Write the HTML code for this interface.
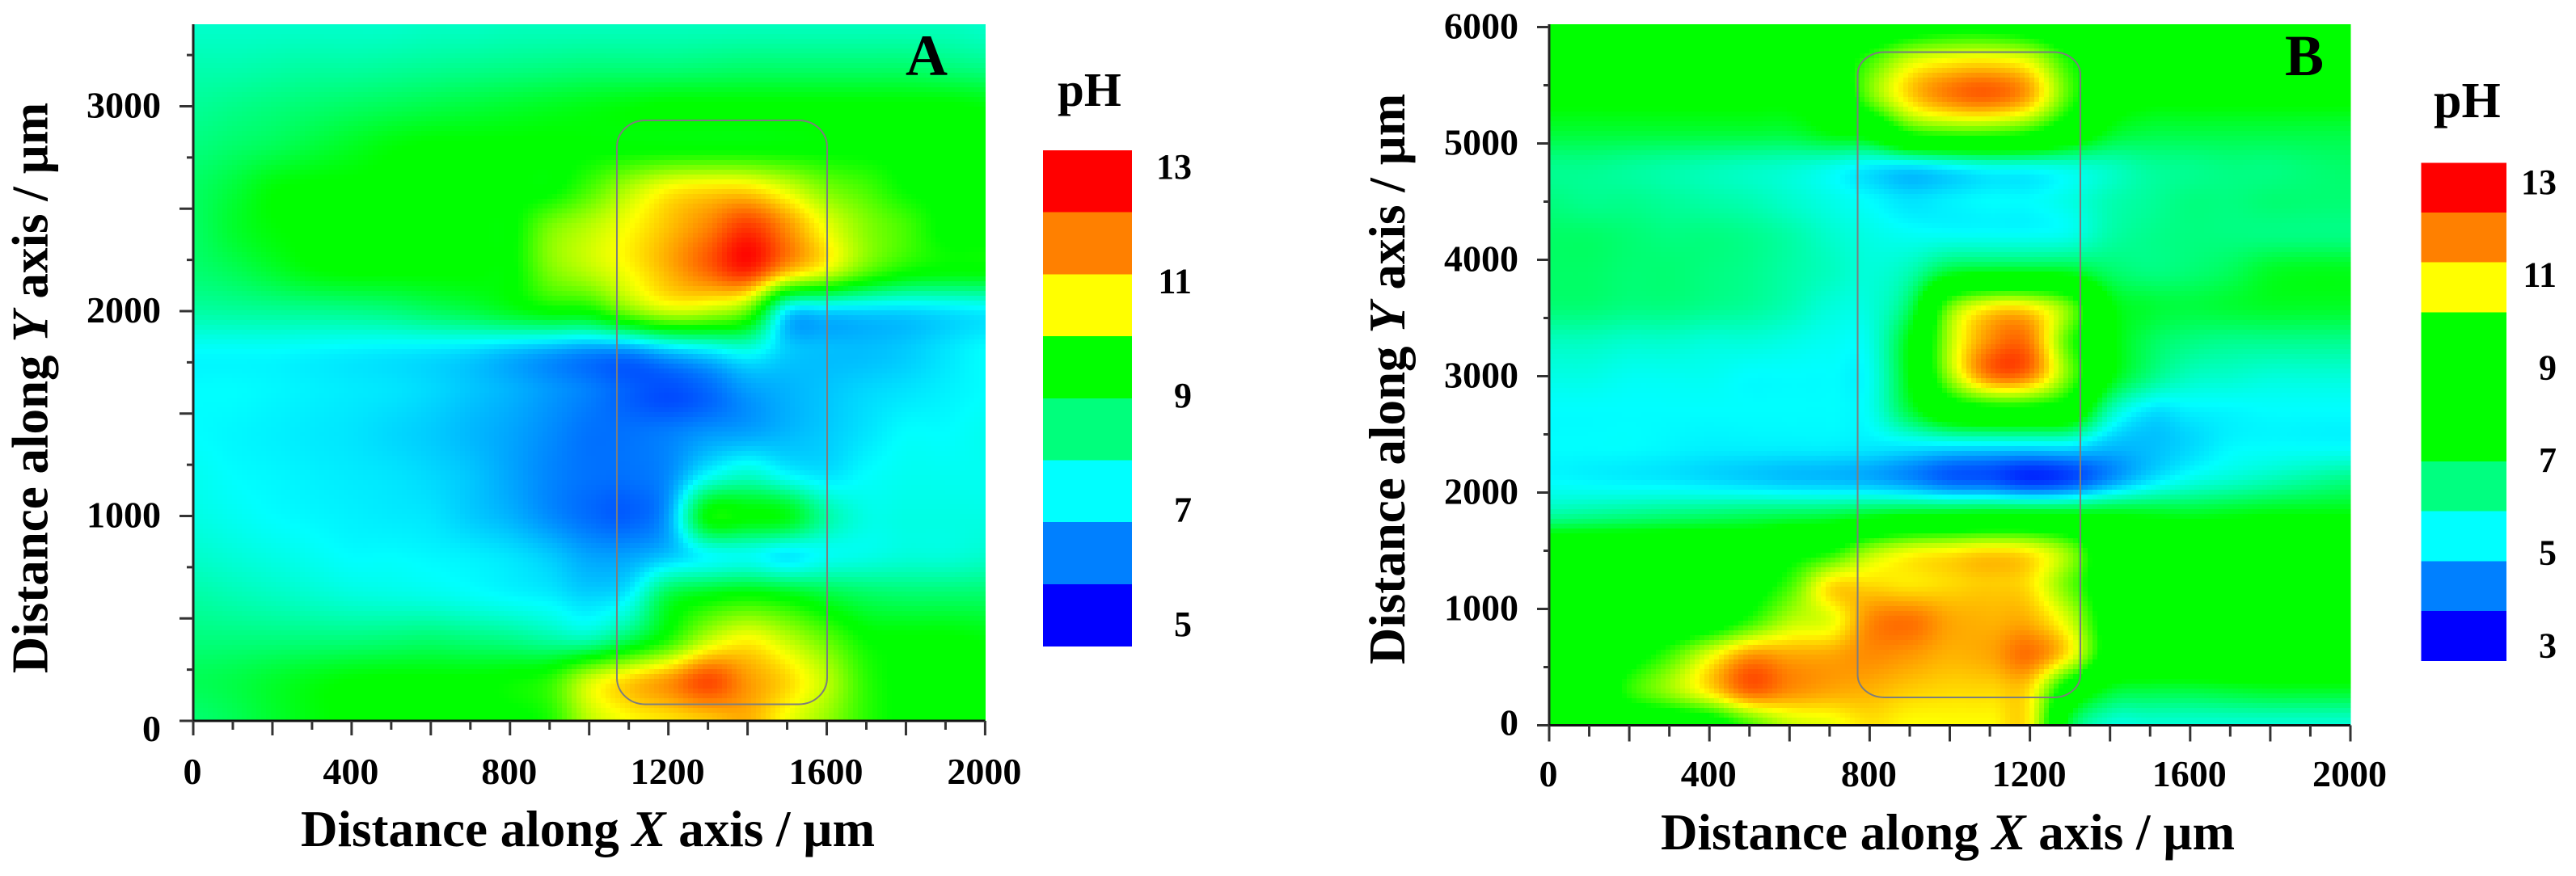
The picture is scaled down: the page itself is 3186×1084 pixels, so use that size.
<!DOCTYPE html>
<html lang="en">
<head>
<meta charset="utf-8">
<title>pH distribution maps A and B</title>
<style>
html,body{margin:0;padding:0;background:#fff;}
svg{display:block;}
text{font-family:"Liberation Serif",serif;font-weight:bold;fill:#000;}
</style>
</head>
<body>
<svg id="figure" xmlns="http://www.w3.org/2000/svg" width="3186" height="1084" viewBox="0 0 3186 1084">
  <rect x="0" y="0" width="3186" height="1084" fill="#fff"/>
  <g id="panel-a">
    <g id="cells-a" shape-rendering="crispEdges"></g>
    <g id="overlay-a"></g>
    <text x="1120" y="93" font-size="72">A</text>
    <text x="372" y="1047" font-size="63">Distance along <tspan font-style="italic">X</tspan> axis / µm</text>
    <text transform="translate(58.7 480) rotate(-90)" text-anchor="middle" font-size="63">Distance along <tspan font-style="italic">Y</tspan> axis / µm</text>
    <text x="1308" y="131" font-size="59">pH</text>
    <g id="legend-a"></g>
  </g>
  <g id="panel-b">
    <g id="cells-b" shape-rendering="crispEdges"></g>
    <g id="overlay-b"></g>
    <text x="2826" y="93" font-size="72">B</text>
    <text x="2054" y="1051" font-size="63">Distance along <tspan font-style="italic">X</tspan> axis / µm</text>
    <text transform="translate(1737 469) rotate(-90)" text-anchor="middle" font-size="63">Distance along <tspan font-style="italic">Y</tspan> axis / µm</text>
    <text x="3010" y="145" font-size="62">pH</text>
    <g id="legend-b"></g>
  </g>
</svg>
<script>
// ---- shared x axis values (µm) ----
const gridX = [0,100,200,300,400,500,600,700,800,900,1000,1100,1200,1300,1400,1500,1600,1700,1800,1900,2000];
const xMajorTicks = [0,200,400,600,800,1000,1200,1400,1600,1800,2000];
const xMinorTicks = [100,300,500,700,900,1100,1300,1500,1700,1900];
const xTickLabels = [0,400,800,1200,1600,2000];

// ---- panel A values ----
const gridYA = [3400,3200,3000,2800,2600,2400,2200,2000,1800,1600,1400,1200,1000,800,600,400,200,0];
const yMajorTicksA = [0,500,1000,1500,2000,2500,3000];
const yMinorTicksA = [250,750,1250,1750,2250,2750,3250];
const yTickLabelsA = [0,1000,2000,3000];
const legendBandsA = [13,12,11,9,8,7,6,5];
const legendLabelsA = [13,11,9,7,5];
const colorStopsValuesA = [5,7,8.95,9.1,11,13];
const phA = [
[7.4,7.4,7.4,7.4,7.4,7.4,7.45,7.45,7.5,7.5,7.5,7.5,7.5,7.5,7.5,7.5,7.5,7.5,7.5,7.5,7.4],
[7.6,7.6,7.65,7.7,7.7,7.75,7.8,7.85,7.9,7.95,8,8,8,8.05,8.1,8.1,8.1,8.1,8.1,8,7.9],
[7.8,7.9,8,8.1,8.2,8.3,8.4,8.5,8.6,8.7,8.8,8.9,9,9,9,9,9,9,9,9,8.9],
[8,8.15,8.3,8.5,8.7,8.9,9,9,9,9,9,9,9,9,9,9,9,9,9,9,9],
[8.2,8.5,8.9,9,9,9,9,9,9,9,9.6,10.4,11,11.2,11.2,10.7,10,9.6,9.1,9,9],
[8.2,8.6,8.9,9,9,9,9,9,9,10,10.5,11,11.5,12,12.6,11.9,10.9,10.1,9.6,9,9],
[8.1,8.3,8.6,8.9,9,9,9,9,9,10,10.5,11,11.6,12.2,12.7,11.6,10.8,9.8,9.2,9,9],
[7.7,7.75,7.8,7.85,7.9,8,8.2,8.4,8.7,9,9.1,10,10.6,10.5,9.8,6.9,6.7,6.7,6.7,6.8,6.9],
[7,7,7,6.95,6.9,6.85,6.8,6.7,6.5,6.3,6.1,6.1,6.5,6.8,7.1,6.6,6.5,6.5,6.6,6.8,7],
[7,7,6.95,6.9,6.85,6.8,6.7,6.55,6.4,6.2,6,5.75,5.6,5.8,6.2,6.4,6.55,6.7,6.8,6.9,7],
[7,6.95,6.9,6.85,6.8,6.7,6.6,6.45,6.3,6.1,5.9,5.9,6,6.2,6.3,6.45,6.6,6.8,7,7,7.1],
[7.1,7,6.95,6.9,6.85,6.8,6.7,6.55,6.3,6.05,5.9,5.9,6.1,7,7.4,7,6.8,7,7.1,7.1,7.1],
[7.2,7.1,7,6.95,6.9,6.85,6.8,6.6,6.4,6.1,5.85,5.75,6.3,9,9,8.8,7.7,7.2,7.2,7.2,7.2],
[7.4,7.3,7.2,7.1,7,7,6.95,6.9,6.8,6.6,6.3,6.3,6.6,7,7.1,6.85,7.1,7.2,7.3,7.3,7.4],
[7.7,7.6,7.5,7.4,7.3,7.25,7.2,7.1,7,6.9,6.7,7,8.5,9,9.2,9,8.6,8.3,8.2,8.2,8.2],
[8,8,8,8,8,8.05,8.1,8,7.9,7.7,7.6,8.3,9.3,10.5,11,10.5,9.8,9.1,9,9,8.9],
[8.3,8.4,8.6,8.8,8.95,9,9,9,9.1,9.4,10.6,11.3,11.8,12.4,11.8,11.3,10.5,9.4,9,9,9],
[8.1,8.3,8.6,8.85,9,9,9,9,9,9.3,10.5,11,11.2,11.4,11.6,10.9,10.2,9.4,9,9,9]
];

// ---- panel B values ----
const gridYB = [6000,5700,5400,5100,4800,4500,4200,3900,3600,3300,3000,2700,2400,2100,1800,1500,1200,900,600,300,0];
const yMajorTicksB = [0,1000,2000,3000,4000,5000,6000];
const yMinorTicksB = [500,1500,2500,3500,4500,5500];
const yTickLabelsB = [0,1000,2000,3000,4000,5000,6000];
const legendBandsB = [13,12,11,9,8.5,8,6,5,4,3];
const legendLabelsB = [13,11,9,7,5,3];
const colorStopsValuesB = [3,5,7,9,11,13];
const phB = [
[8,8,8,8,8,8,8,8,8,8.5,8.8,8.8,8.5,8,8,8,8,8,8,8,8],
[8,8,8,8,8,8,8,8.3,9.5,10.7,11.1,11.2,10.8,9.2,8.2,8,8,8,8,8,8],
[7.2,7.2,7.2,7.2,7.2,7.2,7.2,7.6,9.8,11.3,12,12.2,11.6,9.5,7.6,7.2,7.2,7.2,7.2,7.2,7.2],
[6.6,6.6,6.6,6.6,6.6,6.6,6.6,7,7.5,9.2,9.6,9.6,9.2,8,6.8,6.5,6.5,6.5,6.5,6.5,6.5],
[5.9,5.9,5.8,5.7,5.6,5.5,5.4,5.2,4.9,4.8,5,5.2,5.2,5.3,5.5,5.8,5.9,6,6,6.1,6.2],
[6,5.9,5.9,5.8,5.7,5.6,5.4,5.2,5,4.8,4.9,5,5,5.2,5.6,5.8,6,6,6.1,6.1,6.1],
[6.2,6.2,6.1,6,6,5.9,5.7,5.4,5.2,5.1,5.1,5.1,5.1,5.2,5.7,5.9,6,6,6,6,6],
[6.2,6.2,6.1,6.1,6,5.9,5.7,5.5,5.3,5.6,6.6,6.8,6.8,6.7,6.2,6,6.1,6.3,6.7,6.8,6.8],
[6.1,6.1,6,6,5.9,5.8,5.6,5.3,5.3,6.3,9.8,11,11,9.8,7.1,6.6,6.5,6.6,6.7,6.7,6.7],
[5.5,5.5,5.4,5.4,5.3,5.3,5.2,5.1,5.2,7,10.4,11.9,12,9.5,7.2,6.3,6,5.9,5.9,5.9,5.9],
[5.2,5.2,5.1,5.1,5.1,5,5,5,5.1,7,10.2,12,11.9,9.8,7.1,6,5.5,5.4,5.3,5.3,5.3],
[5,5,5,5,5,5,5,5,5.1,6.5,8,8.5,8.5,8,5.6,4.8,4.9,4.95,5,5,5],
[5,5,5,4.95,4.9,4.9,4.9,4.9,4.85,4.85,4.85,4.85,4.85,4.85,4.5,4.5,4.7,4.95,5,5,5],
[5,4.95,4.9,4.85,4.75,4.65,4.55,4.5,4.4,4.15,3.8,3.7,3.4,3.6,4.2,4.8,5.2,5.4,5.6,5.8,6],
[5.8,5.9,6,6.1,6.2,6.3,6.4,6.5,6.8,7,7.1,7.2,7.2,7.1,7,6.9,6.8,6.9,7,7,7],
[8,8,8,8,8,8,8.5,9,10.2,10.8,11,11.2,11,10,8,8,8,8,8,8,8],
[8,8,8,8,8,8.5,9.5,11.2,11.3,11.2,11.3,11.4,11.2,9.8,8.2,8,8,8,8,8,8],
[8,8,8,8,8.3,9.3,10.4,10.8,11.9,12.1,11.7,11.6,11.6,10.6,8.4,8,8,8,8,8,8],
[8,8,8.6,9.5,10.8,11.8,11.7,11.7,11.9,11.8,11.6,11.7,12.1,11,8.4,8,8,8,8,8,8],
[7.5,8,9.3,10.2,11.2,12.2,11.9,11.7,11.6,11.4,11.3,11.3,11.2,8.2,6.7,6.5,6.5,6.6,6.7,6.7,6.7],
[8,8,8,8,8.3,9.5,10.5,10.8,11.2,11,11,11,11,6.5,5.3,5.3,5.3,5.3,5.3,5.3,5.3]
];

const SVGNS = 'http://www.w3.org/2000/svg';
const stopColors = [[0,0,255],[0,255,255],[0,255,0],[0,255,0],[255,255,0],[255,0,0]];
const CELL = 6;

function make(parent, tag, attrs, name) {
  const el = document.createElementNS(SVGNS, tag);
  for (const k in attrs) el.setAttribute(k, attrs[k]);
  
  
  parent.appendChild(el);
  return el;
}

function colorFor(stops, v) {
  if (v <= stops[0]) return stopColors[0];
  const n = stops.length - 1;
  if (v >= stops[n]) return stopColors[n];
  let i = 0;
  while (v > stops[i + 1]) i++;
  const t = (v - stops[i]) / (stops[i + 1] - stops[i]);
  const a = stopColors[i], b = stopColors[i + 1];
  return [a[0] + (b[0] - a[0]) * t, a[1] + (b[1] - a[1]) * t, a[2] + (b[2] - a[2]) * t];
}
function css(c) {
  return 'rgb(' + Math.round(c[0]) + ',' + Math.round(c[1]) + ',' + Math.round(c[2]) + ')';
}
function catmull(p0, p1, p2, p3, t) {
  return 0.5 * (2 * p1 + (p2 - p0) * t + (2 * p0 - 5 * p1 + 4 * p2 - p3) * t * t + (3 * p1 - p0 - 3 * p2 + p3) * t * t * t);
}
function sampler(grid, gx, gy) {
  const R = gy.length, C = gx.length;
  const dx = gx[1] - gx[0], dy = gy[0] - gy[1];
  return function (xv, yv) {
    const fc = Math.max(0, Math.min(C - 1.0001, (xv - gx[0]) / dx));
    const fr = Math.max(0, Math.min(R - 1.0001, (gy[0] - yv) / dy));
    const c = Math.floor(fc), r = Math.floor(fr);
    const tc = fc - c, tr = fr - r;
    const rowVals = [];
    for (let k = -1; k <= 2; k++) {
      const row = grid[Math.max(0, Math.min(R - 1, r + k))];
      rowVals.push(catmull(row[Math.max(0, c - 1)], row[c], row[Math.min(C - 1, c + 1)], row[Math.min(C - 1, c + 2)], tc));
    }
    return catmull(rowVals[0], rowVals[1], rowVals[2], rowVals[3], tr);
  };
}

function drawPanel(cfg) {
  const X = v => cfg.x0 + v * cfg.xk;
  const Y = v => cfg.y0 - v * cfg.yk;
  const cells = document.getElementById(cfg.cellsId);
  const over = document.getElementById(cfg.overlayId);
  const legend = document.getElementById(cfg.legendId);
  const f = sampler(cfg.grid, gridX, cfg.gridY);

  // heatmap cells
  for (let py = cfg.top; py < Y(0); py += CELL) {
    for (let px = X(0); px < X(2000); px += CELL) {
      const w = Math.min(CELL, X(2000) - px);
      const h = Math.min(CELL, Y(0) - py);
      const xv = (px + w / 2 - cfg.x0) / cfg.xk;
      const yv = (cfg.y0 - (py + h / 2)) / cfg.yk;
      const cell = document.createElementNS(SVGNS, 'rect');
      cell.setAttribute('x', px.toFixed(2));
      cell.setAttribute('y', py.toFixed(2));
      cell.setAttribute('width', (w + 0.6).toFixed(2));
      cell.setAttribute('height', (h + 0.6).toFixed(2));
      cell.setAttribute('fill', css(colorFor(cfg.stops, f(xv, yv))));
      
      
      cells.appendChild(cell);
    }
  }

  // region outline
  make(over, 'rect', {
    x: X(cfg.roi[0]), y: Y(cfg.roi[3]),
    width: X(cfg.roi[1]) - X(cfg.roi[0]), height: Y(cfg.roi[2]) - Y(cfg.roi[3]),
    rx: cfg.roiR[0], ry: cfg.roiR[1], fill: 'none', stroke: '#7d7d7d', 'stroke-width': 2
  }, 'scanned-region-outline');

  // axis lines
  make(over, 'line', {x1: X(0), y1: cfg.top, x2: X(0), y2: Y(0) + 1, stroke: '#222', 'stroke-width': 3}, 'y-axis-line');
  make(over, 'line', {x1: X(0) - cfg.yMajorLen, y1: Y(0), x2: X(2000), y2: Y(0), stroke: '#111', 'stroke-width': 3}, 'x-axis-line');

  // x ticks
  xMajorTicks.forEach(v => {
    make(over, 'line', {x1: X(v), y1: Y(0), x2: X(v), y2: Y(0) + cfg.xMajorLen, stroke: '#333', 'stroke-width': 3}, 'x-major-tick');
  });
  xMinorTicks.forEach(v => {
    make(over, 'line', {x1: X(v), y1: Y(0), x2: X(v), y2: Y(0) + cfg.xMinorLen, stroke: '#333', 'stroke-width': 3}, 'x-minor-tick');
  });
  xTickLabels.forEach(v => {
    const t = make(over, 'text', {x: X(v) - 1, y: cfg.xLabelY, 'text-anchor': 'middle', 'font-size': 46}, 'x-tick-label');
    t.textContent = v;
  });

  // y ticks
  cfg.yMajor.forEach(v => {
    make(over, 'line', {x1: X(0) - cfg.yMajorLen, y1: Y(v), x2: X(0), y2: Y(v), stroke: '#333', 'stroke-width': 3}, 'y-major-tick');
  });
  cfg.yMinor.forEach(v => {
    make(over, 'line', {x1: X(0) - cfg.yMinorLen, y1: Y(v), x2: X(0), y2: Y(v), stroke: '#333', 'stroke-width': 3}, 'y-minor-tick');
  });
  cfg.yLabels.forEach(v => {
    const off = v === 0 ? cfg.zeroOffset : 14;
    const t = make(over, 'text', {x: cfg.yLabelX, y: Y(v) + off, 'text-anchor': 'end', 'font-size': 46}, 'y-tick-label');
    t.textContent = v;
  });

  // legend
  const bandH = (cfg.legBottom - cfg.legTop) / cfg.bands.length;
  cfg.bands.forEach((v, i) => {
    make(legend, 'rect', {
      x: cfg.legX, y: cfg.legTop + i * bandH, width: cfg.legW, height: bandH + 0.5,
      fill: css(colorFor(cfg.stops, v)), 'shape-rendering': 'crispEdges'
    }, 'legend-band');
  });
  cfg.legLabels.forEach(v => {
    const t = make(legend, 'text', {
      x: cfg.legLabelX, y: cfg.legLabelTop + (cfg.legLabels[0] - v) * cfg.legLabelK,
      'text-anchor': 'end', 'font-size': 44
    }, 'legend-label');
    t.textContent = v;
  });
}

drawPanel({
  cellsId: 'cells-a', overlayId: 'overlay-a', legendId: 'legend-a',
  grid: phA, gridY: gridYA, stops: colorStopsValuesA,
  x0: 239, xk: 0.4897, y0: 892, yk: 0.2535, top: 30,
  roi: [1070, 1601, 81, 2931], roiR: [35, 33],
  yMajor: yMajorTicksA, yMinor: yMinorTicksA, yLabels: yTickLabelsA,
  xMajorLen: 18, xMinorLen: 11, yMajorLen: 17, yMinorLen: 8,
  xLabelY: 970, yLabelX: 199, zeroOffset: 25,
  bands: legendBandsA, legLabels: legendLabelsA,
  legX: 1290, legW: 110, legTop: 186, legBottom: 799.5,
  legLabelX: 1474, legLabelTop: 221, legLabelK: 70.75
});
drawPanel({
  cellsId: 'cells-b', overlayId: 'overlay-b', legendId: 'legend-b',
  grid: phB, gridY: gridYB, stops: colorStopsValuesB,
  x0: 1916, xk: 0.4955, y0: 897.5, yk: 0.144, top: 30,
  roi: [770, 1326, 240, 5785], roiR: [33, 28],
  yMajor: yMajorTicksB, yMinor: yMinorTicksB, yLabels: yTickLabelsB,
  xMajorLen: 20, xMinorLen: 14, yMajorLen: 15, yMinorLen: 7,
  xLabelY: 973, yLabelX: 1878, zeroOffset: 12,
  bands: legendBandsB, legLabels: legendLabelsB,
  legX: 2994.5, legW: 105.5, legTop: 201.4, legBottom: 817.6,
  legLabelX: 3162, legLabelTop: 240, legLabelK: 57.34
});
</script>
</body>
</html>
